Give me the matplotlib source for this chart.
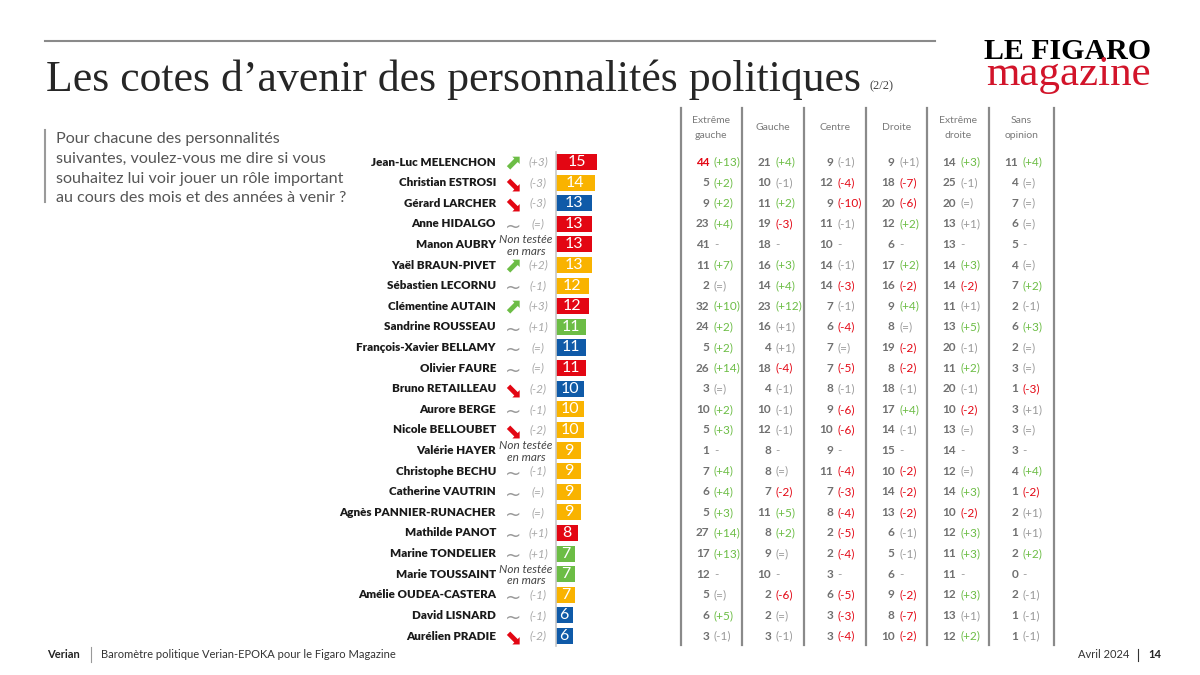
import matplotlib
matplotlib.use("Agg")
import matplotlib.pyplot as plt
from matplotlib.transforms import Affine2D, blended_transform_factory

# ---- data ----
names = ["Jean-Luc MELENCHON", "Christian ESTROSI", "Gérard LARCHER", "Anne HIDALGO",
         "Manon AUBRY", "Yaël BRAUN-PIVET", "Sébastien LECORNU", "Clémentine AUTAIN",
         "Sandrine ROUSSEAU", "François-Xavier BELLAMY", "Olivier FAURE", "Bruno RETAILLEAU",
         "Aurore BERGE", "Nicole BELLOUBET", "Valérie HAYER", "Christophe BECHU",
         "Catherine VAUTRIN", "Agnès PANNIER-RUNACHER", "Mathilde PANOT", "Marine TONDELIER",
         "Marie TOUSSAINT", "Amélie OUDEA-CASTERA", "David LISNARD", "Aurélien PRADIE"]
scores = [15, 14, 13, 13, 13, 13, 12, 12, 11, 11, 11, 10, 10, 10, 9, 9, 9, 9, 8, 7, 7, 7, 6, 6]
parties = ["gauche", "centre", "droite", "gauche", "gauche", "centre", "centre", "gauche",
           "eco", "droite", "gauche", "droite", "centre", "centre", "centre", "centre",
           "centre", "centre", "gauche", "eco", "eco", "centre", "droite", "droite"]
trends = ["up", "down", "down", "flat", "new", "up", "flat", "up", "flat", "flat", "flat", "down",
          "flat", "down", "new", "flat", "flat", "flat", "flat", "flat", "new", "flat", "flat", "down"]
trend_changes = ["+3", "-3", "-3", "=", "", "+2", "-1", "+3", "+1", "=", "=", "-2",
                 "-1", "-2", "", "-1", "=", "=", "+1", "+1", "", "-1", "-1", "-2"]

columns = ["Extrême\ngauche", "Gauche", "Centre", "Droite", "Extrême\ndroite", "Sans\nopinion"]
ext_gauche = [44, 5, 9, 23, 41, 11, 2, 32, 24, 5, 26, 3, 10, 5, 1, 7, 6, 5, 27, 17, 12, 5, 6, 3]
ext_gauche_chg = ["+13", "+2", "+2", "+4", "-", "+7", "=", "+10", "+2", "+2", "+14", "=",
                  "+2", "+3", "-", "+4", "+4", "+3", "+14", "+13", "-", "=", "+5", "-1"]
gauche = [21, 10, 11, 19, 18, 16, 14, 23, 16, 4, 18, 4, 10, 12, 8, 8, 7, 11, 8, 9, 10, 2, 2, 3]
gauche_chg = ["+4", "-1", "+2", "-3", "-", "+3", "+4", "+12", "+1", "+1", "-4", "-1",
              "-1", "-1", "-", "=", "-2", "+5", "+2", "=", "-", "-6", "=", "-1"]
centre = [9, 12, 9, 11, 10, 14, 14, 7, 6, 7, 7, 8, 9, 10, 9, 11, 7, 8, 2, 2, 3, 6, 3, 3]
centre_chg = ["-1", "-4", "-10", "-1", "-", "-1", "-3", "-1", "-4", "=", "-5", "-1",
              "-6", "-6", "-", "-4", "-3", "-4", "-5", "-4", "-", "-5", "-3", "-4"]
droite = [9, 18, 20, 12, 6, 17, 16, 9, 8, 19, 8, 18, 17, 14, 15, 10, 14, 13, 6, 5, 6, 9, 8, 10]
droite_chg = ["+1", "-7", "-6", "+2", "-", "+2", "-2", "+4", "=", "-2", "-2", "-1",
              "+4", "-1", "-", "-2", "-2", "-2", "-1", "-1", "-", "-2", "-7", "-2"]
ext_droite = [14, 25, 20, 13, 13, 14, 14, 11, 13, 20, 11, 20, 10, 13, 14, 12, 14, 10, 12, 11, 11, 12, 13, 12]
ext_droite_chg = ["+3", "-1", "=", "+1", "-", "+3", "-2", "+1", "+5", "-1", "+2", "-1",
                  "-2", "=", "-", "=", "+3", "-2", "+3", "+3", "-", "+3", "+1", "+2"]
sans_opinion = [11, 4, 7, 6, 5, 4, 7, 2, 6, 2, 3, 1, 3, 3, 3, 4, 1, 2, 1, 2, 0, 2, 1, 1]
sans_opinion_chg = ["+4", "=", "=", "=", "-", "=", "+2", "-1", "+3", "=", "=", "-3",
                    "+1", "=", "-", "+4", "-2", "+1", "+1", "+2", "-", "-1", "-1", "-1"]

table_vals = [ext_gauche, gauche, centre, droite, ext_droite, sans_opinion]
table_chgs = [ext_gauche_chg, gauche_chg, centre_chg, droite_chg, ext_droite_chg, sans_opinion_chg]

party_colors = {"gauche": "#e30613", "centre": "#f9b300", "droite": "#0f5aa8", "eco": "#6cbd45"}
GREEN, RED, GRAY = "#6cbd45", "#e30613", "#9a9a9a"
SANS = ["Lato", "DejaVu Sans"]


def chg_color(c):
    if c in ("=", "-", ""):
        return GRAY
    v = int(c)
    if v >= 2:
        return GREEN
    if v <= -2:
        return RED
    return GRAY


fig = plt.figure(figsize=(12, 6.75), dpi=100)
W, H = 1200, 675
# pixel coordinates from the top-left corner
px = Affine2D().scale(1 / W, -1 / H).translate(0, 1) + fig.transFigure

n = len(names)
row_top, row_bot = 162, 636
step = (row_bot - row_top) / (n - 1)
y0 = row_top - step / 2
y1 = row_bot + step / 2

# bar axes: 2.75 px per point
ax = fig.add_axes([556 / W, 1 - y1 / H, 2.75 * 20 / W, (y1 - y0) / H])
rows = list(range(n))
ax.barh(rows, scores, height=0.78, color=[party_colors[p] for p in parties])
ax.set_xlim(0, 20)
ax.set_ylim(n - 0.5, -0.5)
ax.set_xticks([])
ax.set_yticks([])
for s in ["top", "right", "bottom"]:
    ax.spines[s].set_visible(False)
ax.spines["left"].set_color("#c8c8c8")
ax.spines["left"].set_linewidth(1.2)
ax.patch.set_alpha(0)
for i, v in enumerate(scores):
    ax.text(v / 2, i, str(v), ha="center", va="center", color="white",
            fontsize=11.5, family=SANS)

# row transform: x in pixels, y in rows
rt = blended_transform_factory(px, ax.transData)

for i in range(n):
    fig.text(496, i, names[i], transform=rt, ha="right", va="center",
             fontsize=8.4, fontweight="heavy", color="#1a1a1a", family=SANS)
    if trends[i] == "new":
        fig.text(526, i - 0.22, "Non testée", transform=rt, ha="center", va="center",
                 fontsize=8.5, style="italic", color="#444444", family=SANS)
        fig.text(526, i + 0.32, "en mars", transform=rt, ha="center", va="center",
                 fontsize=8.5, style="italic", color="#444444", family=SANS)
        continue
    if trends[i] == "up":
        fig.text(513, i, "⬈", transform=rt, ha="center", va="center",
                 fontsize=15, color="#6cbd45", family="DejaVu Sans")
    elif trends[i] == "down":
        fig.text(513, i + 0.12, "⬊", transform=rt, ha="center", va="center",
                 fontsize=15, color="#e30613", family="DejaVu Sans")
    else:
        fig.text(513, i + 0.15, "~", transform=rt, ha="center", va="center",
                 fontsize=14, color="#9a9a9a", family="DejaVu Sans")
    fig.text(538, i, "(" + trend_changes[i] + ")", transform=rt, ha="center", va="center",
             fontsize=8.5, style="italic", color="#a8a8a8", family=SANS)

# table
col_lines = [680.5, 742, 804, 865.7, 927, 989, 1054]
for x in col_lines:
    fig.add_artist(plt.Line2D([x, x], [108, 645], transform=px, color="#8a8a8a", lw=1.6))
for j, col in enumerate(columns):
    cx = (col_lines[j] + col_lines[j + 1]) / 2
    fig.text(cx, 128, col, transform=px, ha="center", va="center", fontsize=7.5,
             color="#7a7a7a", family=SANS, linespacing=1.9)
    for i in range(n):
        val = table_vals[j][i]
        chg = table_chgs[j][i]
        hl = (j == 0 and i == 0)
        fig.text(col_lines[j] + 29, i, str(val), transform=rt, ha="right", va="center",
                 fontsize=8.5, fontweight="bold", color=RED if hl else "#707070", family=SANS)
        txt = "-" if chg == "-" else "(" + chg + ")"
        fig.text(col_lines[j] + 33.5, i, txt, transform=rt, ha="left", va="center",
                 fontsize=8.5, color=chg_color(chg), family=SANS)

# title and header
fig.add_artist(plt.Line2D([45, 935], [41, 41], transform=px, color="#8a8a8a", lw=1.5))
fig.text(46, 91.5, "Les cotes d’avenir des personnalités politiques", transform=px,
         ha="left", va="baseline", fontsize=31.5, color="#262626", family="Liberation Serif")
fig.text(870, 89, "(2/2)", transform=px, ha="left", va="baseline", fontsize=9,
         color="#444444", family="Liberation Serif")
fig.text(1068, 59, "LE FIGARO", transform=px, ha="center", va="baseline", fontsize=21.5,
         fontweight="bold", color="black", family="Liberation Serif")
fig.text(1068, 85, "magazine", transform=px, ha="center", va="baseline", fontsize=31,
         color="#d2142a", family="Liberation Serif")

# question
fig.add_artist(plt.Line2D([45, 45], [130, 202], transform=px, color="#9a9a9a", lw=1.5))
question = ["Pour chacune des personnalités",
            "suivantes, voulez-vous me dire si vous",
            "souhaitez lui voir jouer un rôle important",
            "au cours des mois et des années à venir ?"]
for k, line in enumerate(question):
    fig.text(56, 138.5 + k * 20, line, transform=px, ha="left", va="center", fontsize=11.6,
             color="#555555", family=SANS)

# footer
fig.text(47, 655, "Verian", transform=px, ha="left", va="center", fontsize=8,
         fontweight="bold", color="#222222", family=SANS)
fig.add_artist(plt.Line2D([91, 91], [647, 662], transform=px, color="#999999", lw=0.8))
fig.text(101, 655, "Baromètre politique Verian-EPOKA pour le Figaro Magazine", transform=px,
         ha="left", va="center", fontsize=8, color="#333333", family=SANS)
fig.text(1129, 655, "Avril 2024", transform=px, ha="right", va="center", fontsize=8,
         color="#333333", family=SANS)
fig.add_artist(plt.Line2D([1138, 1138], [649, 661], transform=px, color="#333333", lw=0.8))
fig.text(1148, 655, "14", transform=px, ha="left", va="center", fontsize=8,
         fontweight="bold", color="#222222", family=SANS)

fig.savefig("out.png", dpi=100)
